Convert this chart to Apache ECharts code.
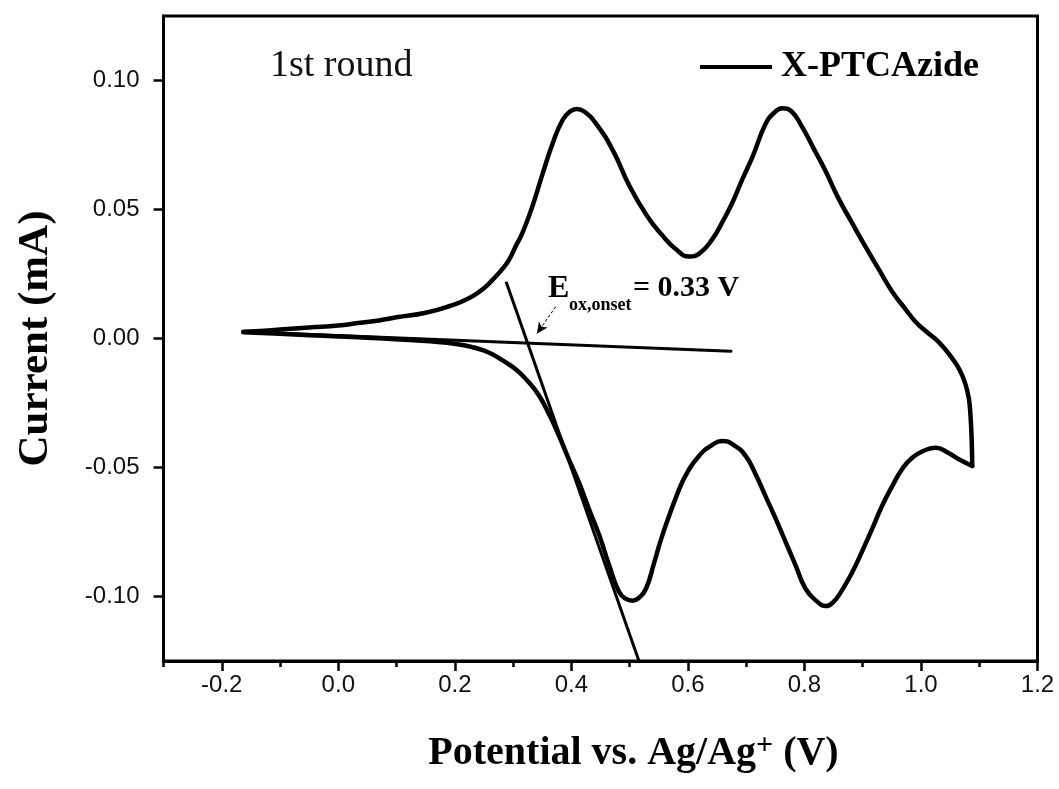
<!DOCTYPE html>
<html><head><meta charset="utf-8">
<script src="https://cdn.jsdelivr.net/npm/echarts@6/dist/echarts.min.js"></script>
<style>html,body{margin:0;padding:0;background:#fff}#c{width:1059px;height:789px}</style>
</head><body><div id="c"></div>
<script>
// ---- data (potential V, current mA) ----
const seriesName = 'X-PTCAzide';
const forwardScan = [
  [-0.163,0.0026],[-0.12,0.0031],[-0.10,0.0035],[-0.05,0.0043],[0.0,0.0050],[0.034,0.0060],
  [0.07,0.0070],[0.10,0.0082],[0.15,0.0100],[0.19,0.0125],[0.225,0.0157],[0.25,0.0195],
  [0.265,0.0228],[0.28,0.0265],[0.293,0.0305],[0.305,0.0360],[0.316,0.0409],[0.333,0.0512],
  [0.351,0.0641],[0.368,0.0757],[0.385,0.0847],[0.398,0.0880],[0.409,0.0890],[0.422,0.0880],
  [0.442,0.0834],[0.471,0.0730],[0.50,0.0590],[0.53,0.0475],[0.556,0.0400],[0.58,0.0345],
  [0.602,0.0318],[0.62,0.0330],[0.642,0.0385],[0.66,0.0455],[0.676,0.0525],[0.693,0.0615],
  [0.711,0.0705],[0.733,0.0830],[0.748,0.0875],[0.762,0.0892],[0.778,0.0880],[0.796,0.0820],
  [0.815,0.0740],[0.836,0.0650],[0.858,0.0545],[0.882,0.0447],[0.905,0.0355],[0.928,0.0267],
  [0.951,0.0180],[0.973,0.0115],[0.991,0.0064],[1.01,0.0025],[1.031,-0.0015],[1.053,-0.0075],
  [1.066,-0.0120],[1.076,-0.0175],[1.082,-0.0230],[1.085,-0.0300],[1.087,-0.0390],[1.088,-0.0494]
];
const reverseScan = [
  [1.088,-0.0494],[1.065,-0.0468],[1.048,-0.0445],[1.025,-0.0423],[1.005,-0.0435],[0.985,-0.0462],
  [0.968,-0.0505],[0.951,-0.0571],[0.933,-0.0650],[0.916,-0.0739],[0.899,-0.0825],[0.882,-0.0906],
  [0.862,-0.0985],[0.848,-0.1025],[0.836,-0.1037],[0.822,-0.1020],[0.802,-0.0970],[0.785,-0.0880],
  [0.768,-0.0790],[0.751,-0.0700],[0.733,-0.0610],[0.716,-0.0525],[0.699,-0.0455],[0.68,-0.0415],
  [0.659,-0.0397],[0.64,-0.0415],[0.619,-0.0455],[0.60,-0.0515],[0.585,-0.0584],[0.556,-0.0764],
  [0.542,-0.0870],[0.528,-0.0970],[0.516,-0.1005],[0.505,-0.1016],[0.493,-0.1008],[0.482,-0.0983],
  [0.465,-0.0880],[0.448,-0.0764],[0.43,-0.0660],[0.413,-0.0558],[0.395,-0.0465],[0.379,-0.0378],
  [0.362,-0.0295],[0.345,-0.0223],[0.325,-0.0165],[0.305,-0.0120],[0.282,-0.0085],[0.259,-0.0055],
  [0.232,-0.0035],[0.208,-0.0023],[0.15,-0.0010],[0.105,-0.0004],[0.05,0.0003],[0.0,0.0008],
  [-0.05,0.0013],[-0.10,0.0018],[-0.163,0.0024]
];
const baselineFit = [[-0.163,0.0026],[0.674,-0.0049]];
const tangentFit = [[0.288,0.022],[0.516,-0.125]];
const onsetArrow = [[0.373,0.0123],[0.341,0.0019]];
const onsetAnchor = [0.3597,0.0158];
const xMajorTicks = [-0.2,0.0,0.2,0.4,0.6,0.8,1.0,1.2];
const xMinorTicks = [-0.3,-0.1,0.1,0.3,0.5,0.7,0.9,1.1];
const yTicks = [-0.10,-0.05,0.00,0.05,0.10];
const xRange = [-0.3,1.2];
const yRange = [-0.125,0.125];

const chart = echarts.init(document.getElementById('c'), null, {renderer:'canvas'});
const serif = '"Liberation Serif","Times New Roman",serif';
const sans = '"Liberation Sans",Arial,sans-serif';
const lineBase = {type:'line', showSymbol:false, symbol:'none', smooth:0.5, animation:false, silent:true,
  xAxisIndex:0, yAxisIndex:0, color:'#000', itemStyle:{color:'#000'}};

chart.setOption({
  backgroundColor:'#fff',
  animation:false,
  color:['#000'],
  grid:{left:163.5, right:21.5, top:16, bottom:128, show:true, borderColor:'#000', borderWidth:3, containLabel:false},
  legend:{data:[seriesName], left:695, top:44, icon:'rect', itemWidth:72, itemHeight:4, itemGap:10,
    itemStyle:{color:'#000'},
    textStyle:{fontFamily:serif, fontWeight:'bold', fontSize:36, color:'#000', padding:[0,0,0,4]}},
  xAxis:[{
    type:'value', min:xRange[0], max:xRange[1], position:'bottom',
    axisLine:{show:true, onZero:false, lineStyle:{color:'#000', width:3}},
    axisTick:{show:true, inside:false, length:10, customValues:xMajorTicks, lineStyle:{color:'#000', width:2.5}},
    axisLabel:{show:true, customValues:xMajorTicks, margin:12, formatter:v=>v.toFixed(1),
      fontFamily:sans, fontSize:24, color:'#111'},
    splitLine:{show:false},
    name:'{a|Potential vs. Ag/Ag}{s|+}{a| (V)}', nameLocation:'middle', nameGap:70,
    nameTextStyle:{padding:[0,0,0,66], rich:{
      a:{fontFamily:serif, fontWeight:'bold', fontSize:40, color:'#000', lineHeight:46},
      s:{fontFamily:serif, fontWeight:'bold', fontSize:30, color:'#000', verticalAlign:'top', lineHeight:28}
    }}
  },{
    type:'value', min:xRange[0], max:xRange[1], position:'bottom',
    axisLine:{show:false, onZero:false},
    axisTick:{show:true, inside:false, length:6, customValues:xMinorTicks, lineStyle:{color:'#000', width:2.5}},
    axisLabel:{show:false}, splitLine:{show:false}
  }],
  yAxis:[{
    type:'value', min:yRange[0], max:yRange[1], position:'left',
    axisLine:{show:true, onZero:false, lineStyle:{color:'#000', width:3}},
    axisTick:{show:true, inside:false, length:10, customValues:yTicks, lineStyle:{color:'#000', width:2.5}},
    axisLabel:{show:true, customValues:yTicks, margin:24, formatter:v=>v.toFixed(2),
      fontFamily:sans, fontSize:24, color:'#111'},
    splitLine:{show:false},
    name:'Current (mA)', nameLocation:'middle', nameRotate:90, nameGap:106,
    nameTextStyle:{fontFamily:serif, fontWeight:'bold', fontSize:43, color:'#000'}
  }],
  series:[
    Object.assign({}, lineBase, {name:seriesName, data:forwardScan,
      lineStyle:{color:'#000', width:4.5, cap:'round', join:'round'}}),
    Object.assign({}, lineBase, {name:seriesName, data:reverseScan,
      lineStyle:{color:'#000', width:4.5, cap:'round', join:'round'}}),
    Object.assign({}, lineBase, {name:'baseline', data:baselineFit, smooth:false,
      lineStyle:{color:'#000', width:3, cap:'round'}}),
    Object.assign({}, lineBase, {name:'tangent', data:tangentFit, smooth:false,
      lineStyle:{color:'#000', width:3},
      markLine:{silent:true, animation:false, symbol:['none','arrow'], symbolSize:[8,11],
        label:{show:false}, lineStyle:{color:'#000', width:1, type:[3,2]},
        data:[[{coord:onsetArrow[0], symbol:'none'},{coord:onsetArrow[1], symbol:'arrow'}]]}})
  ]
});

const a = chart.convertToPixel({gridIndex:0}, onsetAnchor);
chart.setOption({graphic:[
  {type:'text', left:270, top:47, style:{text:'1st round', font:'38px '+serif, fill:'#111'}},
  {type:'text', x:a[0], y:a[1]-9, style:{text:'E', font:'bold 32px '+serif, fill:'#000', align:'left', verticalAlign:'middle'}},
  {type:'text', x:a[0]+21, y:a[1]+8, style:{text:'ox,onset', font:'bold 18px '+serif, fill:'#000', align:'left', verticalAlign:'middle'}},
  {type:'text', x:a[0]+85, y:a[1]-9, style:{text:'= 0.33 V', font:'bold 30px '+serif, fill:'#000', align:'left', verticalAlign:'middle'}}
]});
</script></body></html>
